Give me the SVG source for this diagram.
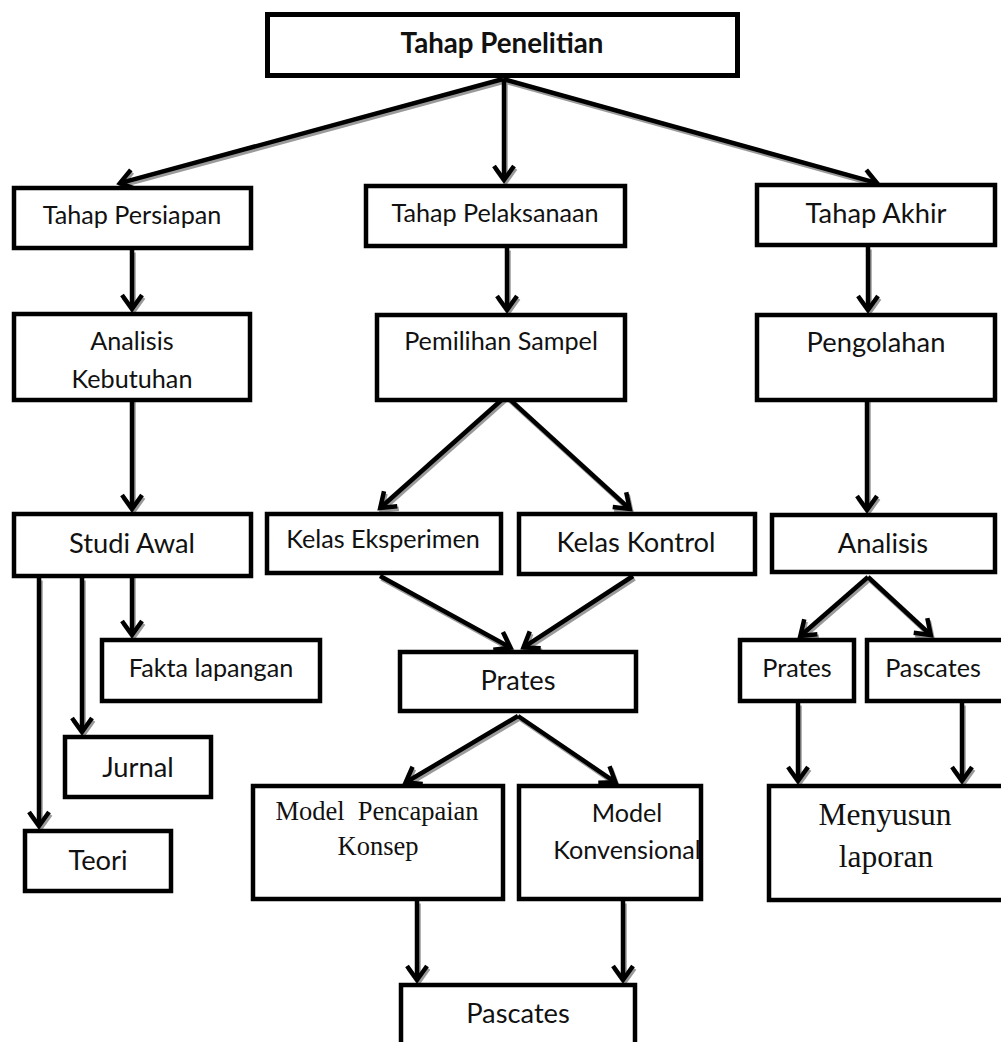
<svg xmlns="http://www.w3.org/2000/svg" width="1001" height="1042" viewBox="0 0 1001 1042">
<defs>
<style>
.box{fill:#fff;stroke:#000;stroke-width:4.5}
.top{stroke-width:5}
.t{font-family:Lato,"Liberation Sans",sans-serif;text-anchor:middle;fill:#111}
.s{font-size:25.2px}
.l{font-size:27.3px}
.b{font-weight:bold;font-size:27.7px}
.sf{font-family:"Liberation Serif",serif;text-anchor:middle;fill:#111}
.c line{stroke:#000;stroke-width:4.5;marker-end:url(#ah)}
.sh line{stroke:#9a9a9a;stroke-width:4.5;marker-end:url(#ahs)}
</style>
<marker id="ah" markerUnits="userSpaceOnUse" markerWidth="40" markerHeight="40" refX="0" refY="0" viewBox="-20 -20 40 40" orient="auto" overflow="visible">
<path d="M-14,-10 L0,0 L-14,10" fill="none" stroke="#000" stroke-width="4.5"/>
</marker>
<marker id="ahs" markerUnits="userSpaceOnUse" markerWidth="40" markerHeight="40" refX="0" refY="0" viewBox="-20 -20 40 40" orient="auto" overflow="visible">
<path d="M-14,-10 L0,0 L-14,10" fill="none" stroke="#9a9a9a" stroke-width="4.5"/>
</marker>
</defs>
<rect width="1001" height="1042" fill="#fff"/>
<g id="connectors">
<g class="sh" transform="translate(1.5,2.5)">
<line x1="503" y1="79" x2="119.9" y2="183.2"/>
<line x1="504" y1="79" x2="504" y2="180"/>
<line x1="503" y1="79" x2="877.1" y2="183.2"/>
<line x1="132" y1="250" x2="132" y2="309"/>
<line x1="507" y1="248" x2="507" y2="310"/>
<line x1="868" y1="247" x2="868" y2="310"/>
<line x1="132" y1="395" x2="132" y2="509"/>
<line x1="506" y1="396" x2="380.2" y2="508"/>
<line x1="506" y1="396" x2="629.8" y2="509"/>
<line x1="867" y1="395" x2="867" y2="510"/>
<line x1="132" y1="570" x2="132" y2="635"/>
<line x1="82" y1="578" x2="82" y2="732"/>
<line x1="39" y1="578" x2="39" y2="826"/>
<line x1="380" y1="576" x2="510.4" y2="647.6"/>
<line x1="633" y1="576" x2="523.5" y2="647.4"/>
<line x1="868" y1="577" x2="800.3" y2="636"/>
<line x1="868" y1="577" x2="930.8" y2="635"/>
<line x1="518" y1="716" x2="405.6" y2="782.5"/>
<line x1="518" y1="716" x2="615.5" y2="782.3"/>
<line x1="417" y1="901" x2="417" y2="980"/>
<line x1="623" y1="901" x2="623" y2="980"/>
<line x1="798" y1="703" x2="798" y2="781"/>
<line x1="962" y1="703" x2="962" y2="781"/>
</g>
<g class="c">
<line x1="503" y1="79" x2="119.9" y2="183.2"/>
<line x1="504" y1="79" x2="504" y2="180"/>
<line x1="503" y1="79" x2="877.1" y2="183.2"/>
<line x1="132" y1="250" x2="132" y2="309"/>
<line x1="507" y1="248" x2="507" y2="310"/>
<line x1="868" y1="247" x2="868" y2="310"/>
<line x1="132" y1="395" x2="132" y2="509"/>
<line x1="506" y1="396" x2="380.2" y2="508"/>
<line x1="506" y1="396" x2="629.8" y2="509"/>
<line x1="867" y1="395" x2="867" y2="510"/>
<line x1="132" y1="570" x2="132" y2="635"/>
<line x1="82" y1="578" x2="82" y2="732"/>
<line x1="39" y1="578" x2="39" y2="826"/>
<line x1="380" y1="576" x2="510.4" y2="647.6"/>
<line x1="633" y1="576" x2="523.5" y2="647.4"/>
<line x1="868" y1="577" x2="800.3" y2="636"/>
<line x1="868" y1="577" x2="930.8" y2="635"/>
<line x1="518" y1="716" x2="405.6" y2="782.5"/>
<line x1="518" y1="716" x2="615.5" y2="782.3"/>
<line x1="417" y1="901" x2="417" y2="980"/>
<line x1="623" y1="901" x2="623" y2="980"/>
<line x1="798" y1="703" x2="798" y2="781"/>
<line x1="962" y1="703" x2="962" y2="781"/>
</g>
</g>
<g id="tahap-penelitian"><rect class="box top" x="267.5" y="14.5" width="470" height="61"/><text class="t b" x="502" y="53">Tahap Penelitian</text></g>
<g id="tahap-persiapan"><rect class="box" x="14" y="188" width="237" height="60"/><text class="t s" x="132" y="224">Tahap Persiapan</text></g>
<g id="tahap-pelaksanaan"><rect class="box" x="366" y="186" width="259" height="60"/><text class="t s" x="495" y="222">Tahap Pelaksanaan</text></g>
<g id="tahap-akhir"><rect class="box" x="757" y="185" width="238" height="60"/><text class="t l" x="876" y="223">Tahap Akhir</text></g>
<g id="analisis-kebutuhan"><rect class="box" x="14" y="314" width="236" height="86"/><text class="t s" x="132" y="350">Analisis</text><text class="t s" x="132" y="388">Kebutuhan</text></g>
<g id="pemilihan-sampel"><rect class="box" x="377" y="315" width="248" height="85"/><text class="t s" x="501" y="350">Pemilihan Sampel</text></g>
<g id="pengolahan"><rect class="box" x="757" y="315" width="238" height="85"/><text class="t l" x="876" y="352">Pengolahan</text></g>
<g id="studi-awal"><rect class="box" x="14" y="514" width="237" height="62"/><text class="t l" x="132" y="553">Studi Awal</text></g>
<g id="kelas-eksperimen"><rect class="box" x="267" y="514" width="234" height="59"/><text class="t s" x="383" y="548">Kelas Eksperimen</text></g>
<g id="kelas-kontrol"><rect class="box" x="519" y="514" width="236" height="60"/><text class="t l" x="636" y="552">Kelas Kontrol</text></g>
<g id="analisis"><rect class="box" x="772" y="515" width="223" height="57"/><text class="t l" x="883" y="553">Analisis</text></g>
<g id="fakta-lapangan"><rect class="box" x="102" y="640" width="218" height="61"/><text class="t s" x="211" y="677">Fakta lapangan</text></g>
<g id="prates"><rect class="box" x="400" y="652" width="236" height="59"/><text class="t l" x="518" y="690">Prates</text></g>
<g id="prates-akhir"><rect class="box" x="740" y="640" width="114" height="61"/><text class="t s" x="797" y="677">Prates</text></g>
<g id="pascates-akhir"><rect class="box" x="867" y="640" width="140" height="61"/><text class="t s" x="933" y="677">Pascates</text></g>
<g id="jurnal"><rect class="box" x="65" y="737" width="146" height="60"/><text class="t l" x="138" y="777">Jurnal</text></g>
<g id="teori"><rect class="box" x="25" y="831" width="146" height="60"/><text class="t l" x="98" y="870">Teori</text></g>
<g id="model-pencapaian-konsep"><rect class="box" x="253" y="786" width="250" height="113"/><text class="sf" font-size="26.5" x="377" y="820" xml:space="preserve">Model  Pencapaian</text><text class="sf" font-size="26.5" x="378" y="855">Konsep</text></g>
<g id="model-konvensional"><rect class="box" x="519" y="786" width="182" height="113"/><text class="t s" x="627" y="822">Model</text><text class="t s" x="627" y="859">Konvensional</text></g>
<g id="menyusun-laporan"><rect class="box" x="769" y="786" width="240" height="114"/><text class="sf" font-size="31.5" x="885" y="825">Menyusun</text><text class="sf" font-size="31.5" x="886" y="867">laporan</text></g>
<g id="pascates"><rect class="box" x="401" y="985" width="234" height="70"/><text class="t l" x="518" y="1023">Pascates</text></g>
</svg>
